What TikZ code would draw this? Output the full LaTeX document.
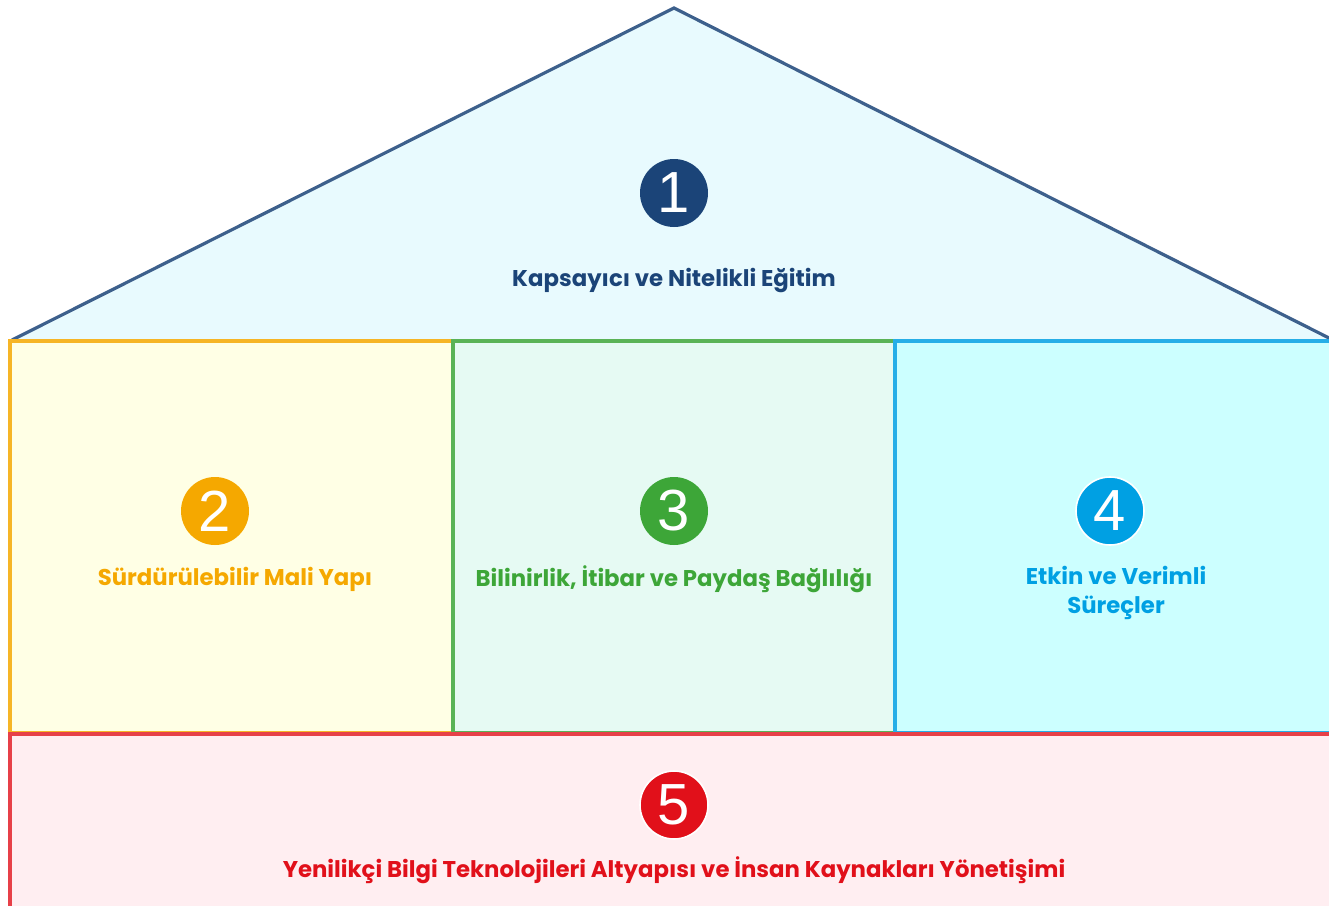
\documentclass[tikz,border=0pt]{standalone}
\usepackage{fontspec}
\setmainfont{Poppins}
\newfontfamily\numfont{Liberation Sans}
\definecolor{cA}{HTML}{1B4478}
\definecolor{fA}{HTML}{E8FAFE}
\definecolor{cB}{HTML}{F5A800}
\definecolor{fB}{HTML}{FFFFE5}
\definecolor{cC}{HTML}{3DA638}
\definecolor{fC}{HTML}{E6FAF3}
\definecolor{cD}{HTML}{00A0E3}
\definecolor{fD}{HTML}{CCFFFF}
\definecolor{cE}{HTML}{E1101A}
\definecolor{fE}{HTML}{FFEEF1}
\begin{document}
\begin{tikzpicture}[x=1pt,y=-1pt,
  numcirc/.style={circle, minimum size=68pt, inner sep=0pt, text=white,
    font=\numfont\fontsize{58}{58}\selectfont},
  ringed/.style={draw=white, line width=1.6pt},
  lbl/.style={font=\fontsize{22.8}{29}\selectfont\bfseries, align=center, inner sep=0pt},
  edge/.style={line width=3.2pt}]
\useasboundingbox (0,0) rectangle (1329,905);
\clip (0,0) rectangle (1329,905);
% roof
\coordinate (rl) at (12,340);
\coordinate (rt) at (674,8);
\coordinate (rr) at (1331,339);
\fill[fA] (rl) -- (rt) -- (rr) -- cycle;
\draw[edge, cA!85, line join=miter] (rl) -- (rt) -- (rr);
% boxes
\filldraw[edge, draw=cB!85, fill=fB] (10,341) rectangle (453,733);
\filldraw[edge, draw=cC!85, fill=fC] (453,341) rectangle (895,733);
\filldraw[edge, draw=cD!85, fill=fD] (895,341) rectangle (1340,733);
\filldraw[edge, draw=cE!80, fill=fE] (10,734) rectangle (1340,920);
% circles
\node[numcirc, fill=cA] (n1) at (674,193) {1};
\node[numcirc, fill=cB] (n2) at (215,511) {2};
\node[numcirc, fill=cC] (n3) at (674,511) {3};
\node[numcirc, ringed, fill=cD] (n4) at (1110,511) {4};
\node[numcirc, ringed, fill=cE] (n5) at (674,805) {5};
% labels
\node[lbl, text=cA] (t1) at (674,280) {Kapsayıcı ve Nitelikli Eğitim};
\node[lbl, text=cB] (t2) at (235,579) {Sürdürülebilir Mali Yapı};
\node[lbl, text=cC] (t3) at (674,579) {Bilinirlik, İtibar ve Paydaş Bağlılığı};
\node[lbl, text=cD] (t4) at (1116,593) {Etkin ve Verimli\\Süreçler};
\node[lbl, text=cE] (t5) at (674,870) {Yenilikçi Bilgi Teknolojileri Altyapısı ve İnsan Kaynakları Yönetişimi};
\end{tikzpicture}
\end{document}
